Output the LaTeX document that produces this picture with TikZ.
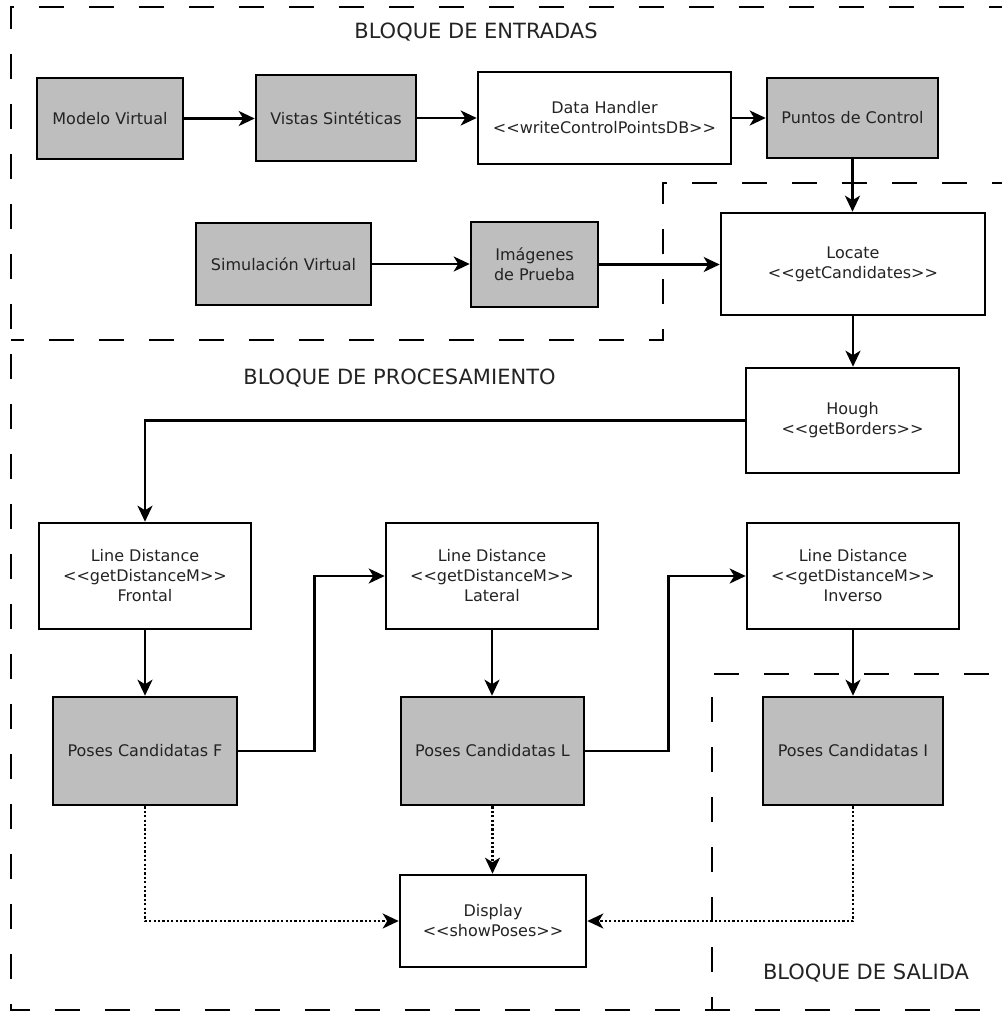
\documentclass[tikz,border=0pt]{standalone}
\usepackage{fontspec}
\setmainfont{DejaVu Sans}
\usetikzlibrary{arrows.meta}
\definecolor{boxgray}{RGB}{190,190,190}
\definecolor{txt}{RGB}{35,35,35}
\tikzset{
  box/.style={draw, line width=2.6pt, inner sep=0pt, align=center, text=txt,
    font=\fontsize{16}{20}\selectfont},
  gbox/.style={box, fill=boxgray},
  arr/.style={line width=2.4pt, -{Stealth[length=16pt,width=15pt,inset=4.5pt]}},
  dotarr/.style={line width=2.4pt, dash pattern=on 2.2pt off 2.2pt, -{Stealth[length=16pt,width=15pt,inset=4.5pt]}},
  region/.style={line width=2.8pt, dash pattern=on 25pt off 25pt, dash phase=12pt},
  blabel/.style={text=txt, font=\fontsize{21}{24}\selectfont, inner sep=0pt}
}
\begin{document}
\begin{tikzpicture}[x=1pt,y=-1pt]
\useasboundingbox (0,0) rectangle (1002,1015);

% regions
\draw[region] (1002,7) -- (11,7) -- (11,1010) -- (1002,1010);
\draw[region] (11,340) -- (663,340) -- (663,183) -- (1002,183);
\draw[region] (712,1010) -- (712,674) -- (1002,674);

\node[blabel] (le) at (476,32) {BLOQUE DE ENTRADAS};
\node[blabel] (lp) at (399.5,378) {BLOQUE DE PROCESAMIENTO};
\node[blabel] (ls) at (866,973) {BLOQUE DE SALIDA};

% nodes
\node[gbox, minimum width=146pt, minimum height=81pt] (mv) at (110,118.5) {Modelo Virtual};
\node[gbox, minimum width=160pt, minimum height=86pt] (vs) at (336,118) {Vistas Sintéticas};
\node[box, minimum width=253pt, minimum height=92pt] (dh) at (604.5,118) {Data Handler\\<{}<writeControlPointsDB>{}>};
\node[gbox, minimum width=171pt, minimum height=80pt] (pc) at (852.5,118) {Puntos de Control};

\node[gbox, minimum width=175pt, minimum height=82pt] (sv) at (283.5,264) {Simulación Virtual};
\node[gbox, minimum width=127pt, minimum height=85pt] (ip) at (534.5,264.5) {Imágenes\\de Prueba};
\node[box, minimum width=264pt, minimum height=102pt] (lo) at (853,264) {Locate\\<{}<getCandidates>{}>};

\node[box, minimum width=213pt, minimum height=105pt] (ho) at (852.5,420.5) {Hough\\<{}<getBorders>{}>};

\node[box, minimum width=212pt, minimum height=106pt] (ldf) at (145,576) {Line Distance\\<{}<getDistanceM>{}>\\Frontal};
\node[box, minimum width=212pt, minimum height=106pt] (ldl) at (492,576) {Line Distance\\<{}<getDistanceM>{}>\\Lateral};
\node[box, minimum width=212pt, minimum height=106pt] (ldi) at (853,576) {Line Distance\\<{}<getDistanceM>{}>\\Inverso};

\node[gbox, minimum width=184pt, minimum height=108pt] (pf) at (145,751) {Poses Candidatas F};
\node[gbox, minimum width=183pt, minimum height=108pt] (pl) at (492.5,751) {Poses Candidatas L};
\node[gbox, minimum width=180pt, minimum height=108pt] (pi) at (853,751) {Poses Candidatas I};

\node[box, minimum width=186pt, minimum height=92pt] (di) at (493,921) {Display\\<{}<showPoses>{}>};

% connectors
\draw[arr] (mv.east) -- (mv.east -| vs.west);
\draw[arr] (vs.east) -- (vs.east -| dh.west);
\draw[arr] (dh.east) -- (dh.east -| pc.west);
\draw[arr] (pc.south) -- (pc.south |- lo.north);
\draw[arr] (sv.east) -- (sv.east -| ip.west);
\draw[arr] (ip.east) -- (ip.east -| lo.west);
\draw[arr] (lo.south) -- (lo.south |- ho.north);
\draw[arr] (ho.west) -| (ldf.north);
\draw[arr] (ldf.south) -- (ldf.south |- pf.north);
\draw[arr] (ldl.south) -- (ldl.south |- pl.north);
\draw[arr] (ldi.south) -- (ldi.south |- pi.north);
\draw[arr] (pf.east) -- ++(76,0) |- (ldl.west);
\draw[arr] (pl.east) -- ++(83,0) |- (ldi.west);
\draw[dotarr] (pf.south) |- (di.west);
\draw[dotarr] (pl.south) -- (pl.south |- di.north);
\draw[dotarr] (pi.south) |- (di.east);
\end{tikzpicture}
\end{document}
